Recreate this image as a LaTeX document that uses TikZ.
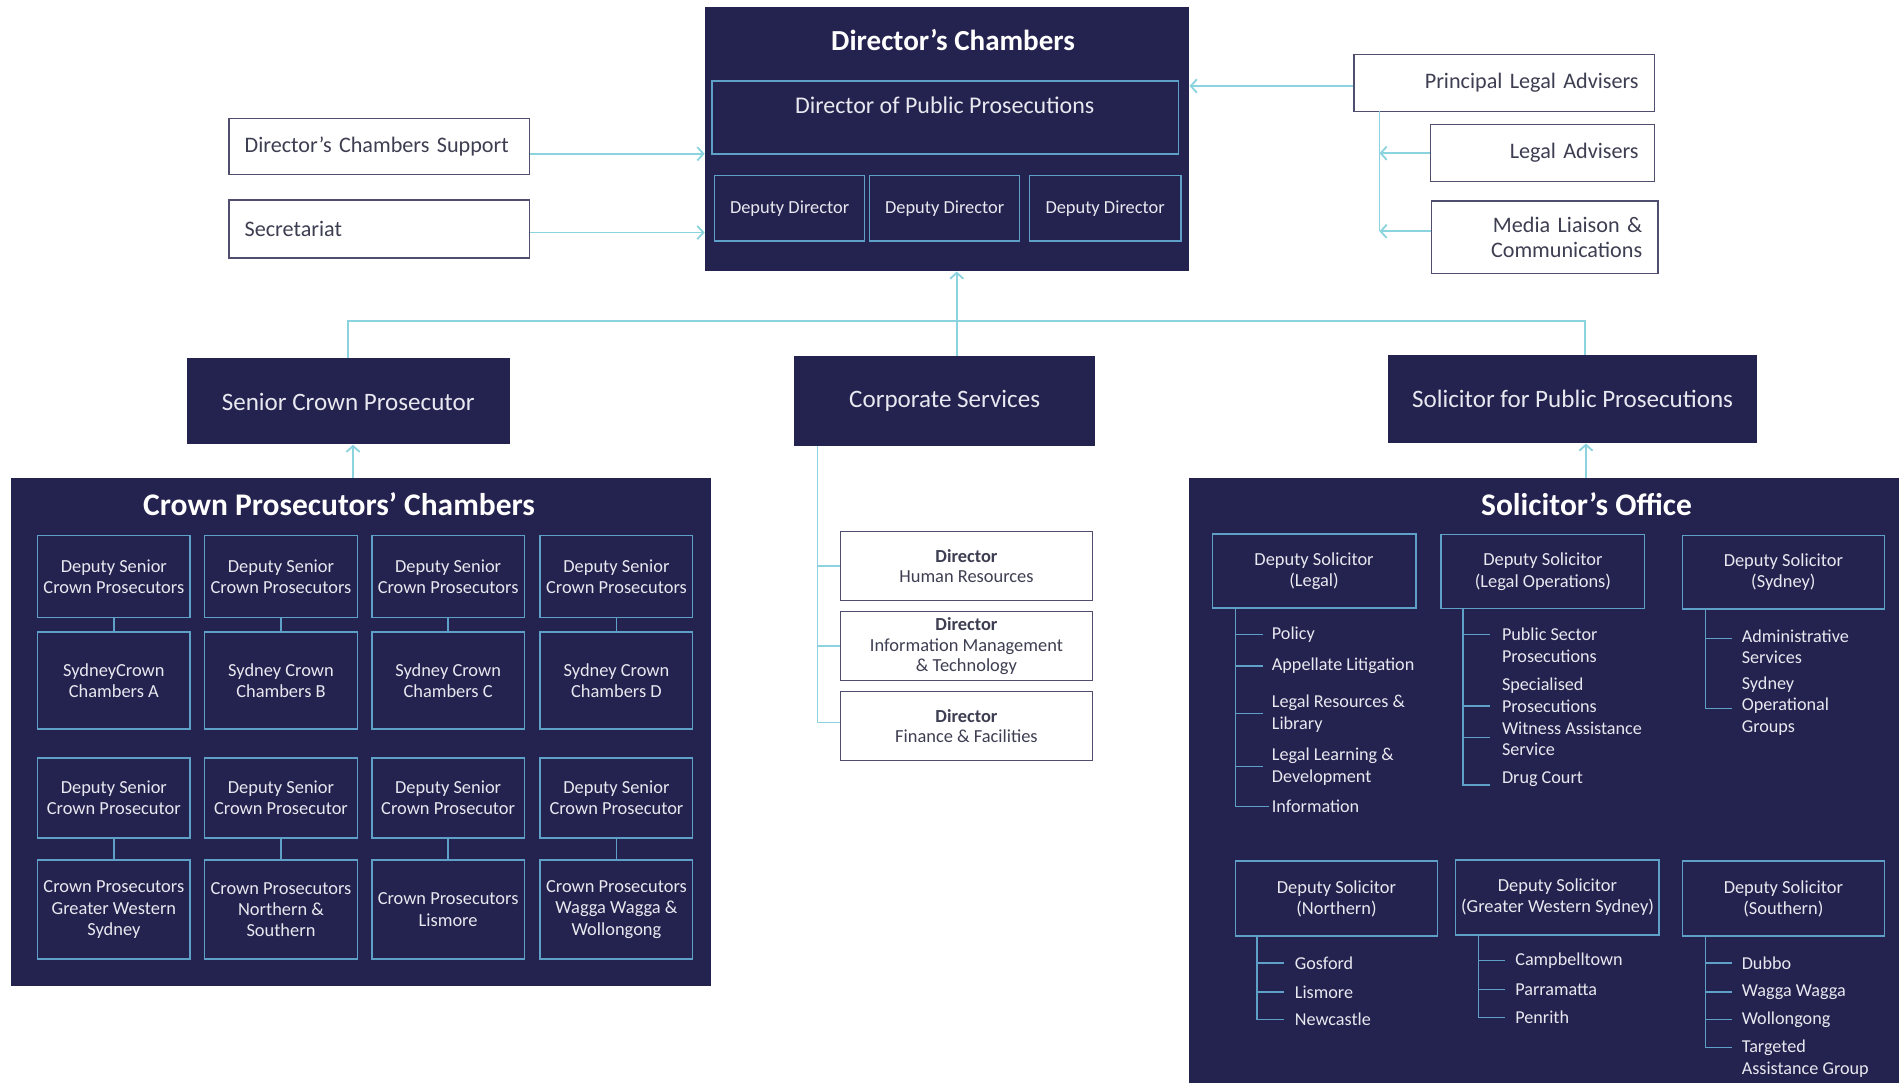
\documentclass[tikz,border=0pt]{standalone}
\usepackage{fontspec}
\setmainfont{Carlito}
\usetikzlibrary{arrows.meta}

\definecolor{navy}{RGB}{36,34,78}
\definecolor{linkblue}{RGB}{139,211,222}
\definecolor{edgeblue}{RGB}{95,160,200}
\definecolor{boxline}{RGB}{80,78,110}
\definecolor{boxtext}{RGB}{62,62,82}
\definecolor{paneltext}{RGB}{232,232,240}

\tikzset{
  panel/.style={fill=navy, draw=none, inner sep=0pt},
  ptitle/.style={text=white, font=\bfseries\fontsize{26}{30}\selectfont, inner sep=0pt},
  wbox/.style={draw=boxline, fill=white, line width=1.2pt, text=boxtext, inner sep=0pt, font=\fontsize{18.3}{21}\selectfont},
  dbox/.style={fill=navy, text=paneltext, inner sep=0pt, font=\fontsize{20.7}{24}\selectfont},
  ibox/.style={draw=edgeblue, line width=1.2pt, text=paneltext, align=center, inner sep=0pt, font=\fontsize{15.2}{17.5}\selectfont},
  listitem/.style={text=paneltext, anchor=west, align=left, inner sep=0pt, font=\fontsize{15}{18}\selectfont},
  link/.style={draw=linkblue, line width=1.5pt},
  arr/.style={link, -{Straight Barb[length=5pt,width=11pt]}},
  branch/.style={draw=edgeblue, line width=1.2pt}
}

\begin{document}
\begin{tikzpicture}[x=1pt,y=-1pt]
\useasboundingbox (0,0) rectangle (1568,894);

% Director's Chambers
\node[panel, minimum width=400pt, minimum height=218pt] (dirch) at (782,115) {};
\node[ptitle, font=\bfseries\fontsize{24}{28}\selectfont] (dirchtitle) at (787,33) {Director’s Chambers};
\node[ibox, minimum width=385pt, minimum height=60pt] (dpp) at (780.5,97) {};
\node[text=paneltext, inner sep=0pt, font=\fontsize{19.8}{23}\selectfont] (dpptext) at (780,87) {Director of Public Prosecutions};
\node[ibox, minimum width=124pt, minimum height=54pt] (dd1) at (652,172) {Deputy Director};
\node[ibox, minimum width=124pt, minimum height=54pt] (dd2) at (780,172) {Deputy Director};
\node[ibox, minimum width=125pt, minimum height=54pt] (dd3) at (912.5,172) {Deputy Director};

% support boxes
\node[wbox, minimum width=248pt, minimum height=46pt, text width=222pt, align=left] (dcs) at (313,121) {Director’s Chambers Support};
\node[wbox, minimum width=248pt, minimum height=48pt, text width=222pt, align=left] (sec) at (313,189) {Secretariat};
\draw[arr] ([yshift=-6pt]dcs.east) -- ([yshift=-6pt]dcs.east -| dirch.west);
\draw[arr] ([yshift=-3pt]sec.east) -- ([yshift=-3pt]sec.east -| dirch.west);

% advisers
\node[wbox, minimum width=248pt, minimum height=47pt, text width=222pt, align=right] (pla) at (1242,68.5) {Principal Legal Advisers};
\node[wbox, minimum width=185pt, minimum height=47pt, text width=159pt, align=right] (la) at (1273.5,126.5) {Legal Advisers};
\node[wbox, minimum width=187pt, minimum height=60pt, text width=161pt, align=right] (ml) at (1275.5,196) {Media Liaison \&\\Communications};
\coordinate (adv) at (1139,92);
\draw[arr] ([yshift=-2.5pt]pla.west) -- ([yshift=-2.5pt]pla.west -| dirch.east);
\draw[link] (adv) -- ([yshift=5pt]ml.west -| adv);
\draw[arr] (la.west) -- (la.west -| adv);
\draw[arr] ([yshift=5pt]ml.west) -- ([yshift=5pt]ml.west -| adv);

% second level
\coordinate (hub) at (790,265);
\node[dbox, minimum width=267pt, minimum height=71pt] (scp) at (287.5,331.5) {Senior Crown Prosecutor};
\node[dbox, minimum width=248pt, minimum height=74pt] (cs) at (780,331) {Corporate Services};
\node[dbox, minimum width=305pt, minimum height=73pt] (spp) at (1298.5,329.5) {Solicitor for Public Prosecutions};
\draw[link] (scp.north) -- (scp.north |- hub) -- ([xshift=10pt]hub -| spp.north) -- ([xshift=10pt]spp.north);
\draw[arr] (hub |- cs.north) -- (hub |- dirch.south);

% Crown Prosecutors' Chambers
\node[panel, minimum width=578pt, minimum height=419pt] (cpc) at (298,604.5) {};
\node[ptitle] (cpctitle) at (280,416) {Crown Prosecutors’ Chambers};
\draw[arr] ([xshift=4pt]scp.south |- cpc.north) -- ([xshift=4pt]scp.south);
\foreach \i/\x/\t in {1/94/SydneyCrown\\Chambers A, 2/232/Sydney Crown\\Chambers B,
    3/370/Sydney Crown\\Chambers C, 4/509/Sydney Crown\\Chambers D} {
  \node[ibox, minimum width=126pt, minimum height=68pt] (dsa\i) at (\x,476) {Deputy Senior\\Crown Prosecutors};
  \node[ibox, minimum width=126pt, minimum height=80pt] (syd\i) at (\x,562) {\t};
  \draw[branch] (dsa\i.south) -- (syd\i.north);
}
\foreach \i/\x/\t in {1/94/Crown Prosecutors\\Greater Western\\Sydney, 2/232/Crown Prosecutors\\Northern \&\\Southern,
    3/370/Crown Prosecutors\\Lismore, 4/509/Crown Prosecutors\\Wagga Wagga \&\\Wollongong} {
  \node[ibox, minimum width=126pt, minimum height=66pt] (dsb\i) at (\x,659) {Deputy Senior\\Crown Prosecutor};
  \node[ibox, minimum width=126pt, minimum height=82pt] (reg\i) at (\x,751) {\t};
  \draw[branch] (dsb\i.south) -- (reg\i.north);
}

% Corporate Services
\node[wbox, minimum width=208pt, minimum height=57pt, align=center, font=\fontsize{15.2}{17}\selectfont] (hr) at (798,467.5) {\textbf{Director}\\Human Resources};
\node[wbox, minimum width=208pt, minimum height=57pt, align=center, font=\fontsize{15.2}{17}\selectfont] (imt) at (798,533.5) {\textbf{Director}\\Information Management\\\& Technology};
\node[wbox, minimum width=208pt, minimum height=57pt, align=center, font=\fontsize{15.2}{17}\selectfont] (ff) at (798,599.5) {\textbf{Director}\\Finance \& Facilities};
\coordinate (cstrunk) at (675,368);
\draw[link] (cstrunk) |- ([yshift=3pt]ff.west);
\draw[link] (cstrunk |- hr.west) -- (hr.west);
\draw[link] (cstrunk |- imt.west) -- (imt.west);

% Solicitor's Office
\node[panel, minimum width=586pt, minimum height=499pt] (so) at (1275,644.5) {};
\node[ptitle] (sotitle) at (1310,416) {Solicitor’s Office};
\draw[arr] ([xshift=11pt]spp.south |- so.north) -- ([xshift=11pt]spp.south);
\node[ibox, minimum width=168pt, minimum height=61pt] (dslegal) at (1085,471.5) {Deputy Solicitor\\(Legal)};
\node[ibox, minimum width=168pt, minimum height=61pt] (dsops) at (1274,472) {Deputy Solicitor\\(Legal Operations)};
\node[ibox, minimum width=167pt, minimum height=61pt] (dssyd) at (1472.5,472.5) {Deputy Solicitor\\(Sydney)};
\node[ibox, minimum width=167pt, minimum height=62pt] (dsnth) at (1103.5,742) {Deputy Solicitor\\(Northern)};
\node[ibox, minimum width=168pt, minimum height=62pt] (dsgws) at (1286,741) {Deputy Solicitor\\(Greater Western Sydney)};
\node[ibox, minimum width=167pt, minimum height=62pt] (dssth) at (1472.5,742) {Deputy Solicitor\\(Southern)};

% lists
\draw[branch] (1020,502) -- (1020,666) -- (1048,666);
\foreach \b/\y/\t in {524/524/Policy, 550/550/Appellate Litigation, 589/589/Legal Resources \&\\Library,
    633/633/Legal Learning \&\\Development, 666/666/Information} {
  \draw[branch] (1020,\b) -- (1043,\b);
  \node[listitem] at (1050,\y) {\t};
}
\draw[branch] (1208,503) -- (1208,648) -- (1230,648);
\foreach \b/\y/\t in {524/533/Public Sector\\Prosecutions, 583/574/Specialised\\Prosecutions,
    609/610/Witness Assistance\\Service, 648/643/Drug Court} {
  \draw[branch] (1208,\b) -- (1230,\b);
  \node[listitem] at (1240,\y) {\t};
}
\draw[branch] (1408,503) -- (1408,585) -- (1430,585);
\foreach \b/\y/\t in {527/534/Administrative\\Services, 585/583/Sydney\\Operational\\Groups} {
  \draw[branch] (1408,\b) -- (1430,\b);
  \node[listitem] at (1438,\y) {\t};
}
\draw[branch] (1038,773) -- (1038,842) -- (1060,842);
\foreach \y/\t in {795/Gosford, 819/Lismore, 842/Newcastle} {
  \draw[branch] (1038,\y) -- (1060,\y);
  \node[listitem] at (1069,\y) {\t};
}
\draw[branch] (1221,772) -- (1221,840) -- (1243,840);
\foreach \y/\t in {793/Campbelltown, 817/Parramatta, 840/Penrith} {
  \draw[branch] (1221,\y) -- (1243,\y);
  \node[listitem] at (1251,\y) {\t};
}
\draw[branch] (1408,773) -- (1408,865) -- (1430,865);
\foreach \b/\y/\t in {795/795/Dubbo, 819/819/Wagga Wagga, 842/842/Wollongong, 865/874/Targeted\\Assistance Group} {
  \draw[branch] (1408,\b) -- (1430,\b);
  \node[listitem] at (1438,\y) {\t};
}
\end{tikzpicture}
\end{document}
